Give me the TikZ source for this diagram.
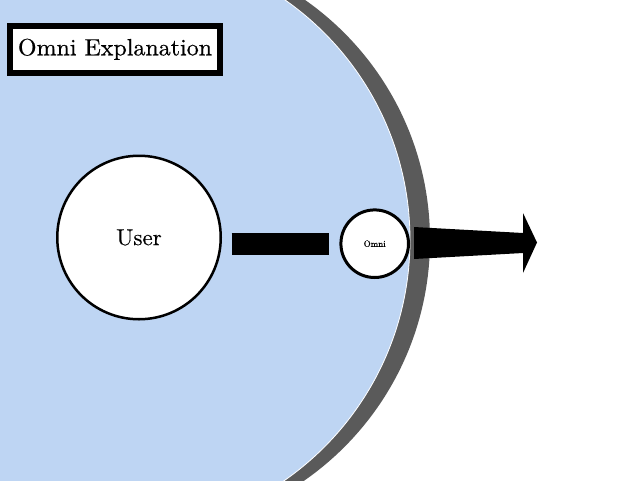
\documentclass[tikz,border=0pt]{standalone}
\usepackage{fontspec}
\usetikzlibrary{calc}
\newfontfamily\titlefont{lmroman10-regular}[Extension=.otf, FakeStretch=1.02, FakeBold=0.5]
\newfontfamily\labelfont{lmroman10-regular}[Extension=.otf, FakeBold=0.3]
\definecolor{bgblue}{RGB}{190,213,243}
\definecolor{ringgray}{RGB}{90,90,90}
\tikzset{
  x=1pt, y=-1pt,
  bignode/.style={circle, draw=black, line width=2.5pt, fill=white, inner sep=0pt, minimum size=163.5pt, font=\labelfont\fontsize{23}{26}\selectfont},
  smallnode/.style={circle, draw=black, line width=3pt, fill=white, inner sep=0pt, minimum size=67.6pt, font=\labelfont\fontsize{9}{10}\selectfont},
  titlebox/.style={rectangle, draw=black, line width=5.5pt, fill=white, inner sep=0pt, minimum width=210pt, minimum height=47pt, font=\titlefont\fontsize{23.5}{26}\selectfont},
  barline/.style={line width=22pt, draw=black},
}
\begin{document}
\begin{tikzpicture}
\useasboundingbox (0,0) rectangle (640,480);
\begin{scope}
\clip (0,0) rectangle (640,480);
\fill[white] (0,0) rectangle (640,480);
\fill[ringgray] (137,240) circle[radius=293];
\filldraw[fill=bgblue, draw=white, line width=0.8pt] (117,240) circle[radius=293];
\end{scope}
\node[titlebox] (title) at (115,49.3) {Omni Explanation};
\node[bignode] (user) at (139,237.5) {User};
\node[smallnode] (omni) at (374.7,243.7) {Omni};
\coordinate (tip) at (537,242.5);
\draw[barline] ([xshift=9.7pt]user.east |- omni.west) -- ([xshift=-10.1pt]omni.west);
\fill[black] ([shift={(4,-16.7)}]omni.east) --++(109,6) --++(0,-20) -- (tip) --++(-14,30.5) --++(0,-20) --++(-109,6) -- cycle;
\end{tikzpicture}
\end{document}
